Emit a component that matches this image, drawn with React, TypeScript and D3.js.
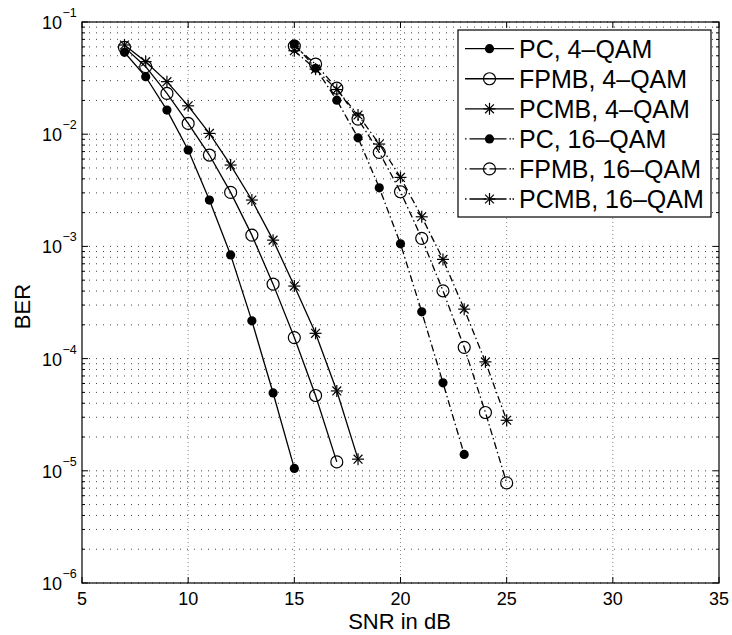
import React from "react";
import * as d3 from "d3";

const snrPC4 = [7, 8, 9, 10, 11, 12, 13, 14, 15];
const berPC4 = [0.0537, 0.0325, 0.0164, 0.00723, 0.00259, 8.4e-4, 2.17e-4, 4.94e-5, 1.05e-5];
const snrFPMB4 = [7, 8, 9, 10, 11, 12, 13, 14, 15, 16, 17];
const berFPMB4 = [0.0594, 0.04, 0.0231, 0.01247, 0.00652, 0.00303, 0.00126, 4.61e-4, 1.54e-4, 4.69e-5, 1.2e-5];
const snrPCMB4 = [7, 8, 9, 10, 11, 12, 13, 14, 15, 16, 17, 18];
const berPCMB4 = [0.0624, 0.0443, 0.0294, 0.0179, 0.01016, 0.00531, 0.00259, 0.001137, 4.43e-4, 1.68e-4, 5.15e-5, 1.27e-5];
const snrPC16 = [15, 16, 17, 18, 19, 20, 21, 22, 23];
const berPC16 = [0.0637, 0.0387, 0.0201, 0.00929, 0.00333, 0.001054, 2.61e-4, 6.08e-5, 1.4e-5];
const snrFPMB16 = [15, 16, 17, 18, 19, 20, 21, 22, 23, 24, 25];
const berFPMB16 = [0.061, 0.0422, 0.0257, 0.01364, 0.00689, 0.00307, 0.00118, 4.02e-4, 1.26e-4, 3.31e-5, 7.8e-6];
const snrPCMB16 = [15, 16, 17, 18, 19, 20, 21, 22, 23, 24, 25];
const berPCMB16 = [0.0555, 0.038, 0.025, 0.01483, 0.00817, 0.00412, 0.001836, 7.66e-4, 2.76e-4, 9.35e-5, 2.82e-5];

const seriesNames = ["PC, 4–QAM", "FPMB, 4–QAM", "PCMB, 4–QAM", "PC, 16–QAM", "FPMB, 16–QAM", "PCMB, 16–QAM"];
const seriesMarkers = ["dot", "circle", "star", "dot", "circle", "star"];
const seriesDashed = [false, false, false, true, true, true];
const seriesX = [snrPC4, snrFPMB4, snrPCMB4, snrPC16, snrFPMB16, snrPCMB16];
const seriesY = [berPC4, berFPMB4, berPCMB4, berPC16, berFPMB16, berPCMB16];

const xTicks = [5, 10, 15, 20, 25, 30, 35];
const yExps = [-6, -5, -4, -3, -2, -1];

const FONT = "'Liberation Sans', Arial, Helvetica, sans-serif";
const L = 82, R = 719, T = 22, B = 583;
const DASH = "7,3,1.5,3";

function Marker({ kind, cx, cy }: { kind: string; cx: number; cy: number }) {
  if (kind === "dot") return <circle cx={cx} cy={cy} r={4.6} fill="#000" />;
  if (kind === "circle")
    return <circle cx={cx} cy={cy} r={6} fill="none" stroke="#000" strokeWidth={1.2} />;
  const s = 6, d = 4.4;
  return (
    <g stroke="#000" strokeWidth={1.2}>
      <line x1={cx - s} y1={cy} x2={cx + s} y2={cy} />
      <line x1={cx} y1={cy - s} x2={cx} y2={cy + s} />
      <line x1={cx - d} y1={cy - d} x2={cx + d} y2={cy + d} />
      <line x1={cx - d} y1={cy + d} x2={cx + d} y2={cy - d} />
    </g>
  );
}

export default function App() {
  const x = d3.scaleLinear().domain([5, 35]).range([L, R]);
  const y = d3.scaleLog().domain([1e-6, 1e-1]).range([B, T]);
  const line = d3.line<[number, number]>().x((d) => x(d[0])).y((d) => y(d[1]));

  const minorY: number[] = [];
  for (let e = -6; e < -1; e++) for (let m = 2; m <= 9; m++) minorY.push(m * Math.pow(10, e));
  const majorY = yExps.map((e) => Math.pow(10, e));

  const legX = 458, legY = 30, legW = 253, legH = 187;
  const rowY = (i: number) => 48.7 + i * 30.06;

  return (
    <svg width={732} height={635} style={{ position: "absolute", left: 0, top: 0, background: "#fff" }}>
      <rect x={0} y={0} width={732} height={635} fill="#fff" />
      {/* grid */}
      <g>
        {minorY.concat(majorY).map((v, i) => (
          <line key={"gy" + i} x1={L} x2={R} y1={y(v)} y2={y(v)} stroke="#444" strokeWidth={1} strokeDasharray="1,6" />
        ))}
        {xTicks.slice(1, -1).map((v) => (
          <line key={"gx" + v} x1={x(v)} x2={x(v)} y1={T} y2={B} stroke="#888" strokeWidth={1} strokeDasharray="1,3" />
        ))}
      </g>
      {/* ticks */}
      <g stroke="#000" strokeWidth={1}>
        {xTicks.map((v) => (
          <g key={"tx" + v}>
            <line x1={x(v)} x2={x(v)} y1={B} y2={B - 6} />
            <line x1={x(v)} x2={x(v)} y1={T} y2={T + 6} />
          </g>
        ))}
        {majorY.map((v, i) => (
          <g key={"ty" + i}>
            <line x1={L} x2={L + 6} y1={y(v)} y2={y(v)} />
            <line x1={R} x2={R - 6} y1={y(v)} y2={y(v)} />
          </g>
        ))}
        {minorY.map((v, i) => (
          <g key={"tmy" + i}>
            <line x1={L} x2={L + 3} y1={y(v)} y2={y(v)} />
            <line x1={R} x2={R - 3} y1={y(v)} y2={y(v)} />
          </g>
        ))}
      </g>
      {/* series */}
      {seriesX.map((xs, si) => {
        const pts: [number, number][] = xs.map((v, i) => [v, seriesY[si][i]]);
        return (
          <g key={"s" + si}>
            <path d={line(pts) || ""} fill="none" stroke="#000" strokeWidth={1.3}
              strokeDasharray={seriesDashed[si] ? DASH : undefined} />
            {pts.map((p, i) => (
              <Marker key={i} kind={seriesMarkers[si]} cx={x(p[0])} cy={y(p[1])} />
            ))}
          </g>
        );
      })}
      {/* frame */}
      <rect x={L} y={T} width={R - L} height={B - T} fill="none" stroke="#000" strokeWidth={1.2} />
      {/* tick labels */}
      <g fontFamily={FONT} fill="#000">
        {xTicks.map((v) => (
          <text key={"lx" + v} x={x(v)} y={605} fontSize={18} textAnchor="middle">{v}</text>
        ))}
        {yExps.map((e) => (
          <g key={"ly" + e}>
            <text x={62} y={y(Math.pow(10, e)) + 7} fontSize={18} textAnchor="end">10</text>
            <text x={62.5} y={y(Math.pow(10, e)) - 5} fontSize={12.5} textAnchor="start">{"−" + Math.abs(e)}</text>
          </g>
        ))}
        <text x={(L + R) / 2 - 1} y={629} fontSize={22} textAnchor="middle">SNR in dB</text>
        <text transform={`translate(30,${(T + B) / 2 + 4}) rotate(-90)`} fontSize={22} textAnchor="middle">BER</text>
      </g>
      {/* legend */}
      <g>
        <rect x={legX} y={legY} width={legW} height={legH} fill="#fff" stroke="#000" strokeWidth={1.2} />
        {seriesNames.map((name, i) => (
          <g key={"lg" + i}>
            <line x1={465} x2={514} y1={rowY(i)} y2={rowY(i)} stroke="#000" strokeWidth={1.3}
              strokeDasharray={seriesDashed[i] ? "1.5,3,17,3,17,3,1.5" : undefined} />
            <Marker kind={seriesMarkers[i]} cx={489.5} cy={rowY(i)} />
            <text x={519} y={rowY(i) + 8.8} fontSize={25} fontFamily={FONT}>{name}</text>
          </g>
        ))}
      </g>
    </svg>
  );
}
